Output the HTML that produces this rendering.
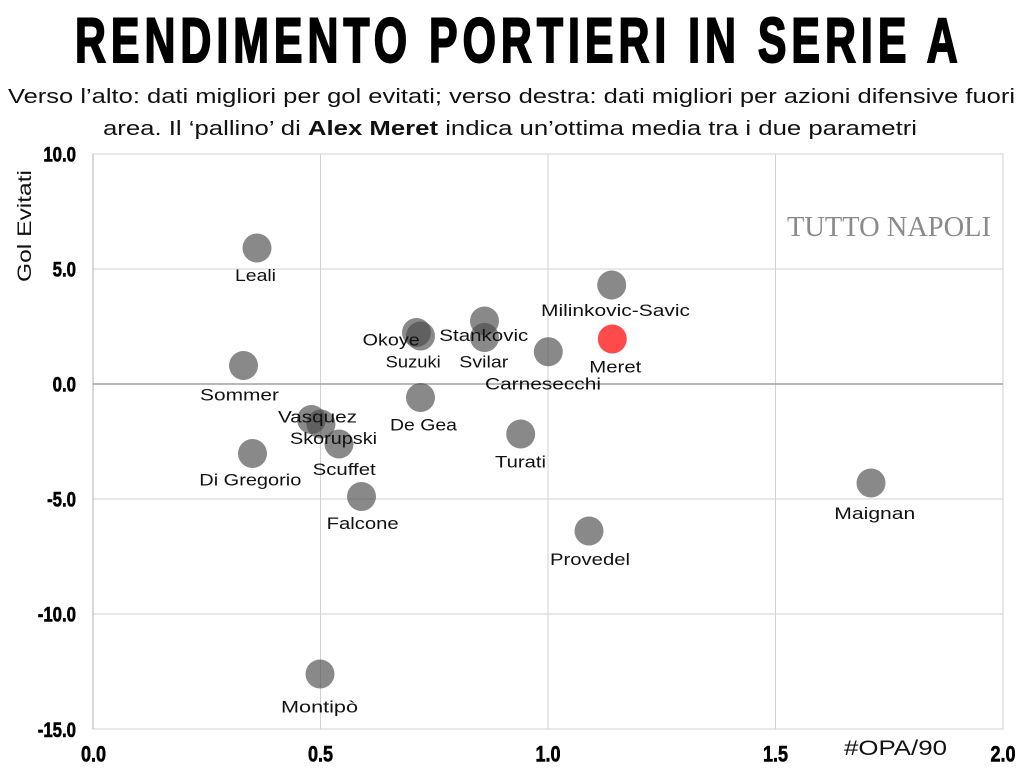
<!DOCTYPE html>
<html>
<head>
<meta charset="utf-8">
<style>
  html, body { margin: 0; padding: 0; background: #ffffff; }
  svg { display: block; }
  text { font-family: "Liberation Sans", "DejaVu Sans", sans-serif; }
</style>
</head>
<body>
<svg width="1024" height="768" viewBox="0 0 1024 768" xmlns="http://www.w3.org/2000/svg">
  <rect x="0" y="0" width="1024" height="768" fill="#ffffff"/>

  <!-- Title -->
  <text transform="translate(75,62) scale(0.68,1)" font-size="63" font-weight="bold" fill="#000" stroke="#000" stroke-width="2" textLength="1298" lengthAdjust="spacing">RENDIMENTO PORTIERI IN SERIE A</text>

  <!-- Subtitle -->
  <text x="8" y="103" font-size="20" fill="#111" textLength="1007" lengthAdjust="spacingAndGlyphs">Verso l’alto: dati migliori per gol evitati; verso destra: dati migliori per azioni difensive fuori</text>
  <text x="103" y="135" font-size="20" fill="#111" textLength="814" lengthAdjust="spacingAndGlyphs">area. Il ‘pallino’ di <tspan font-weight="bold">Alex Meret</tspan> indica un’ottima media tra i due parametri</text>

  <!-- Grid -->
  <g stroke="#d2d2d2" stroke-width="1" fill="none">
    <line x1="320.5" y1="154" x2="320.5" y2="729"/>
    <line x1="548" y1="154" x2="548" y2="729"/>
    <line x1="775.5" y1="154" x2="775.5" y2="729"/>
    <line x1="93" y1="269" x2="1003" y2="269"/>
    <line x1="93" y1="499" x2="1003" y2="499"/>
    <line x1="93" y1="614" x2="1003" y2="614"/>
    <rect x="93" y="154" width="910" height="575"/>
  </g>
  <line x1="93" y1="154" x2="93" y2="729" stroke="#b0b0b0" stroke-width="1"/>
  <line x1="93" y1="384" x2="1003" y2="384" stroke="#8f8f8f" stroke-width="1.2"/>

  <!-- Watermark -->
  <text x="787" y="236" font-size="28" fill="#8a8a8a" textLength="204" lengthAdjust="spacingAndGlyphs" style="font-family:'Liberation Serif', serif">TUTTO NAPOLI</text>

  <!-- Y tick labels -->
  <g font-size="21" font-weight="bold" fill="#000" stroke="#000" stroke-width="0.6">
    <text transform="translate(76,161.5) scale(0.8,1)" text-anchor="end">10.0</text>
    <text transform="translate(76,276.5) scale(0.8,1)" text-anchor="end">5.0</text>
    <text transform="translate(76,391.5) scale(0.8,1)" text-anchor="end">0.0</text>
    <text transform="translate(76,506.5) scale(0.8,1)" text-anchor="end">-5.0</text>
    <text transform="translate(76,621.5) scale(0.8,1)" text-anchor="end">-10.0</text>
    <text transform="translate(76,737) scale(0.8,1)" text-anchor="end">-15.0</text>
  </g>

  <!-- X tick labels -->
  <g font-size="22" font-weight="bold" fill="#000" stroke="#000" stroke-width="0.6">
    <text transform="translate(93.5,761.5) scale(0.82,1)" text-anchor="middle">0.0</text>
    <text transform="translate(320.5,761.5) scale(0.82,1)" text-anchor="middle">0.5</text>
    <text transform="translate(548,761.5) scale(0.82,1)" text-anchor="middle">1.0</text>
    <text transform="translate(775.5,761.5) scale(0.82,1)" text-anchor="middle">1.5</text>
    <text transform="translate(1003,761.5) scale(0.82,1)" text-anchor="middle">2.0</text>
  </g>

  <!-- Axis labels -->
  <text transform="translate(31,226) rotate(-90)" text-anchor="middle" font-size="19" fill="#111" textLength="112" lengthAdjust="spacingAndGlyphs">Gol Evitati</text>
  <text x="844" y="755" font-size="21" fill="#111" textLength="103" lengthAdjust="spacingAndGlyphs">#OPA/90</text>

  <!-- Points -->
  <g fill="#4a4a4a" fill-opacity="0.65">
    <circle cx="257" cy="248" r="14.5"/>
    <circle cx="243.5" cy="365.5" r="14.5"/>
    <circle cx="252.5" cy="453.5" r="14.5"/>
    <circle cx="311.5" cy="419.5" r="14.5"/>
    <circle cx="321" cy="424" r="14.5"/>
    <circle cx="339" cy="444" r="14.5"/>
    <circle cx="361.5" cy="496.5" r="14.5"/>
    <circle cx="416.5" cy="332.5" r="14.5"/>
    <circle cx="420.5" cy="336" r="14.5"/>
    <circle cx="420.5" cy="397.5" r="14.5"/>
    <circle cx="484.5" cy="321" r="14.5"/>
    <circle cx="484.5" cy="337.5" r="14.5"/>
    <circle cx="548.3" cy="351.7" r="14.5"/>
    <circle cx="611.7" cy="285" r="14.5"/>
    <circle cx="520.7" cy="434" r="14.5"/>
    <circle cx="589" cy="531" r="14.5"/>
    <circle cx="871" cy="483" r="14.5"/>
    <circle cx="320" cy="674" r="14.5"/>
  </g>
  <circle cx="612.3" cy="339" r="14.5" fill="#ff2a2a" fill-opacity="0.85"/>

  <!-- Point labels -->
  <g font-size="17" fill="#111">
    <text x="235" y="281" textLength="41" lengthAdjust="spacingAndGlyphs">Leali</text>
    <text x="200" y="400.5" textLength="79" lengthAdjust="spacingAndGlyphs">Sommer</text>
    <text x="278" y="422.5" textLength="79" lengthAdjust="spacingAndGlyphs">Vasquez</text>
    <text x="290" y="444" textLength="87" lengthAdjust="spacingAndGlyphs">Skorupski</text>
    <text x="312.7" y="475" textLength="63" lengthAdjust="spacingAndGlyphs">Scuffet</text>
    <text x="199.3" y="485.7" textLength="102" lengthAdjust="spacingAndGlyphs">Di Gregorio</text>
    <text x="326.7" y="529" textLength="72" lengthAdjust="spacingAndGlyphs">Falcone</text>
    <text x="362.7" y="345.7" textLength="57" lengthAdjust="spacingAndGlyphs">Okoye</text>
    <text x="385.7" y="367.3" textLength="55" lengthAdjust="spacingAndGlyphs">Suzuki</text>
    <text x="390" y="430.3" textLength="67" lengthAdjust="spacingAndGlyphs">De Gea</text>
    <text x="439.3" y="341" textLength="89" lengthAdjust="spacingAndGlyphs">Stankovic</text>
    <text x="459.3" y="367.3" textLength="49" lengthAdjust="spacingAndGlyphs">Svilar</text>
    <text x="485" y="389.3" textLength="116" lengthAdjust="spacingAndGlyphs">Carnesecchi</text>
    <text x="541" y="316" textLength="149" lengthAdjust="spacingAndGlyphs">Milinkovic-Savic</text>
    <text x="589.3" y="372.7" textLength="52" lengthAdjust="spacingAndGlyphs">Meret</text>
    <text x="495" y="467.7" textLength="51" lengthAdjust="spacingAndGlyphs">Turati</text>
    <text x="550" y="565" textLength="80" lengthAdjust="spacingAndGlyphs">Provedel</text>
    <text x="834.3" y="519" textLength="81" lengthAdjust="spacingAndGlyphs">Maignan</text>
    <text x="281" y="712.7" textLength="77" lengthAdjust="spacingAndGlyphs">Montipò</text>
  </g>
</svg>
</body>
</html>
